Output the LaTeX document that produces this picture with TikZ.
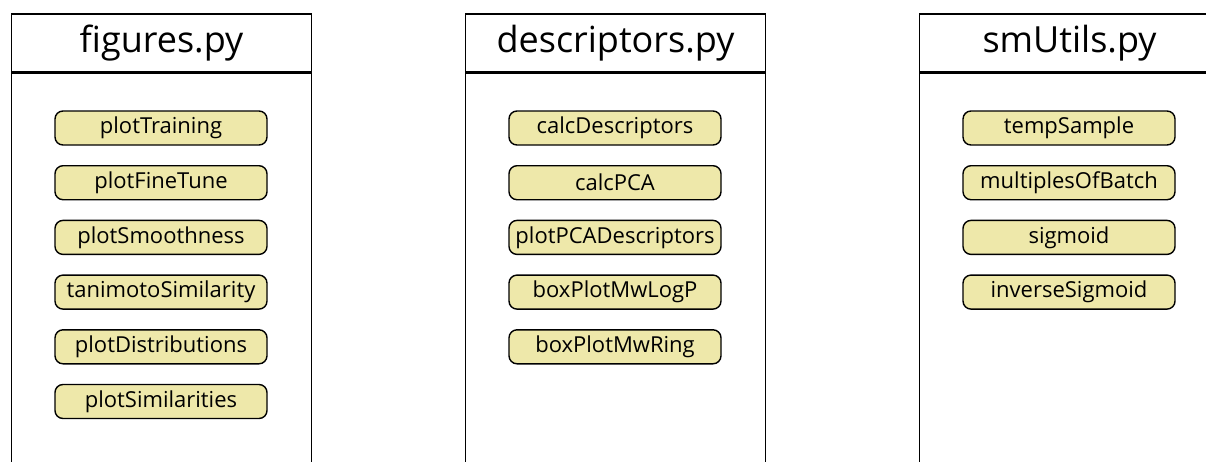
\documentclass[tikz,border=0pt]{standalone}
\usepackage{fontspec}
\setmainfont{Open Sans}
\usepackage{xcolor}
\usetikzlibrary{positioning}

\definecolor{pillfill}{RGB}{238,232,170}

\begin{document}
\begin{tikzpicture}[
    x=1pt, y=1pt,
    node distance=19.3pt,
    header/.style={draw, line width=1.5pt, minimum width=300pt, minimum height=58pt, inner sep=0pt, font=\fontsize{36}{40}\selectfont},
    body/.style={draw, line width=1.5pt, minimum width=300pt, minimum height=440pt, inner sep=0pt, anchor=north},
    pill/.style={draw, line width=1.4pt, rounded corners=8pt, fill=pillfill, minimum width=212pt, minimum height=34pt, inner sep=0pt, font=\fontsize{22}{24}\selectfont}
]
    \useasboundingbox (0,0) rectangle (1206,-461);
    \clip (0,0) rectangle (1206,-461);

    % files
    \node[header] (figHead) at (161.5,-43) {figures.py};
    \node[body] (figBody) at (figHead.south) {};
    \node[header] (descHead) at (615.5,-43) {descriptors.py};
    \node[body] (descBody) at (descHead.south) {};
    \node[header] (utilHead) at (1069.5,-43) {smUtils.py};
    \node[body] (utilBody) at (utilHead.south) {};

    % figures.py
    \node[pill] (plotTraining) at (161,-128) {plotTraining};
    \node[pill, below=of plotTraining] (plotFineTune) {plotFineTune};
    \node[pill, below=of plotFineTune] (plotSmooth) {plotSmoothness};
    \node[pill, below=of plotSmooth] (tanimoto) {tanimotoSimilarity};
    \node[pill, below=of tanimoto] (plotDist) {plotDistributions};
    \node[pill, below=of plotDist] (plotSim) {plotSimilarities};

    % descriptors.py
    \node[pill] (calcDesc) at (615,-128) {calcDescriptors};
    \node[pill, below=of calcDesc] (calcPCA) {calcPCA};
    \node[pill, below=of calcPCA] (plotPCA) {plotPCADescriptors};
    \node[pill, below=of plotPCA] (boxLogP) {boxPlotMwLogP};
    \node[pill, below=of boxLogP] (boxRing) {boxPlotMwRing};

    % smUtils.py
    \node[pill] (tempSample) at (1069,-128) {tempSample};
    \node[pill, below=of tempSample] (multBatch) {multiplesOfBatch};
    \node[pill, below=of multBatch] (sigmoid) {sigmoid};
    \node[pill, below=of sigmoid] (invSigmoid) {inverseSigmoid};
\end{tikzpicture}
\end{document}
